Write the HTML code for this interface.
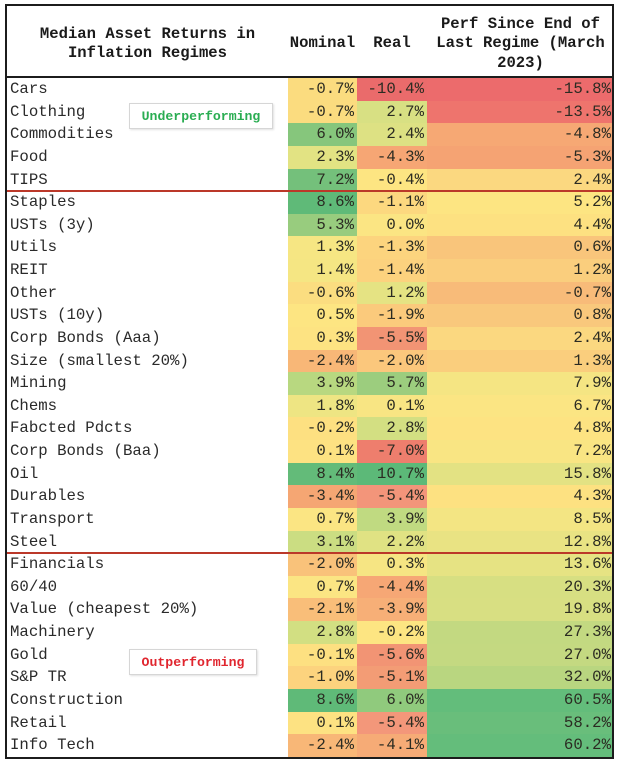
<!DOCTYPE html>
<html>
<head>
<meta charset="utf-8">
<style>
  html,body{margin:0;padding:0;background:#fff;}
  body{width:620px;height:762px;position:relative;overflow:hidden;font-family:"Liberation Mono","DejaVu Sans Mono",monospace;color:#222;}
  .frame{position:absolute;left:5px;top:4px;width:605px;height:751px;border:2px solid #1c1c1c;}
  .hdr{position:absolute;top:9px;height:70px;display:flex;align-items:center;justify-content:center;text-align:center;font-weight:bold;font-size:15.6px;line-height:19.5px;color:#1a1a1a;}
  .hline{position:absolute;left:7px;top:76px;width:605px;height:2px;background:#1c1c1c;}
  .grid{position:absolute;left:7px;top:78px;width:605px;display:grid;grid-template-columns:281px 69px 70px 185px;grid-auto-rows:22.63px;font-size:15.7px;line-height:22.63px;}
  .grid div{white-space:pre;overflow:hidden;}
  .l{padding-left:3px;background:#fff;color:#2a2a2a;}
  .n{text-align:right;padding-right:3px;color:#2b2b22;}
  .p{text-align:right;padding-right:1px;color:#2b2b22;}
  .red{position:absolute;left:7px;width:605px;height:2px;background:#bb3829;}
  .tag{position:absolute;background:#fff;border:1px solid #d6d6d6;box-shadow:1px 1px 2px rgba(0,0,0,0.12);font-weight:bold;font-size:13.2px;display:flex;align-items:center;justify-content:center;}
</style>
</head>
<body>
<div class="frame"></div>

<div class="hdr" style="left:7px;width:281px;">Median Asset Returns in<br>Inflation Regimes</div>
<div class="hdr" style="left:288px;width:69px;">Nominal</div>
<div class="hdr" style="left:357px;width:70px;">Real</div>
<div class="hdr" style="left:427px;width:187px;">Perf Since End of<br>Last Regime (March<br>2023)</div>
<div class="hline"></div>

<div class="grid">
  <div class="l">Cars</div><div class="n" style="background:#fbdc7f">-0.7%</div><div class="n" style="background:#ea6b6b">-10.4%</div><div class="p" style="background:#ec6b6c">-15.8%</div>
  <div class="l">Clothing</div><div class="n" style="background:#fbdc7f">-0.7%</div><div class="n" style="background:#d8e083">2.7%</div><div class="p" style="background:#ee746d">-13.5%</div>
  <div class="l">Commodities</div><div class="n" style="background:#86c67c">6.0%</div><div class="n" style="background:#dde183">2.4%</div><div class="p" style="background:#f6a874">-4.8%</div>
  <div class="l">Food</div><div class="n" style="background:#e2e383">2.3%</div><div class="n" style="background:#f6a674">-4.3%</div><div class="p" style="background:#f5a373">-5.3%</div>
  <div class="l">TIPS</div><div class="n" style="background:#74c07b">7.2%</div><div class="n" style="background:#fde582">-0.4%</div><div class="p" style="background:#fbd880">2.4%</div>
  <div class="l">Staples</div><div class="n" style="background:#5fba78">8.6%</div><div class="n" style="background:#fcd87f">-1.1%</div><div class="p" style="background:#fde582">5.2%</div>
  <div class="l">USTs (3y)</div><div class="n" style="background:#98cc7e">5.3%</div><div class="n" style="background:#fbe583">0.0%</div><div class="p" style="background:#fde181">4.4%</div>
  <div class="l">Utils</div><div class="n" style="background:#f6e683">1.3%</div><div class="n" style="background:#fcd47e">-1.3%</div><div class="p" style="background:#f9c57b">0.6%</div>
  <div class="l">REIT</div><div class="n" style="background:#f5e683">1.4%</div><div class="n" style="background:#fcd27e">-1.4%</div><div class="p" style="background:#face7d">1.2%</div>
  <div class="l">Other</div><div class="n" style="background:#fbdd80">-0.6%</div><div class="n" style="background:#e5e383">1.2%</div><div class="p" style="background:#f8bb79">-0.7%</div>
  <div class="l">USTs (10y)</div><div class="n" style="background:#fde582">0.5%</div><div class="n" style="background:#fbca7c">-1.9%</div><div class="p" style="background:#f9c87c">0.8%</div>
  <div class="l">Corp Bonds (Aaa)</div><div class="n" style="background:#fde382">0.3%</div><div class="n" style="background:#f29474">-5.5%</div><div class="p" style="background:#fbd880">2.4%</div>
  <div class="l">Size (smallest 20%)</div><div class="n" style="background:#f8b777">-2.4%</div><div class="n" style="background:#fbc77c">-2.0%</div><div class="p" style="background:#face7d">1.3%</div>
  <div class="l">Mining</div><div class="n" style="background:#b8d880">3.9%</div><div class="n" style="background:#9ccd7e">5.7%</div><div class="p" style="background:#f5e583">7.9%</div>
  <div class="l">Chems</div><div class="n" style="background:#eee583">1.8%</div><div class="n" style="background:#f8e583">0.1%</div><div class="p" style="background:#fbe583">6.7%</div>
  <div class="l">Fabcted Pdcts</div><div class="n" style="background:#fde081">-0.2%</div><div class="n" style="background:#d3df82">2.8%</div><div class="p" style="background:#fde382">4.8%</div>
  <div class="l">Corp Bonds (Baa)</div><div class="n" style="background:#fde282">0.1%</div><div class="n" style="background:#ee7e6d">-7.0%</div><div class="p" style="background:#f9e583">7.2%</div>
  <div class="l">Oil</div><div class="n" style="background:#63bb79">8.4%</div><div class="n" style="background:#5cb978">10.7%</div><div class="p" style="background:#e3e283">15.8%</div>
  <div class="l">Durables</div><div class="n" style="background:#f5a673">-3.4%</div><div class="n" style="background:#f3957a">-5.4%</div><div class="p" style="background:#fde181">4.3%</div>
  <div class="l">Transport</div><div class="n" style="background:#fbe583">0.7%</div><div class="n" style="background:#c0da81">3.9%</div><div class="p" style="background:#f3e583">8.5%</div>
  <div class="l">Steel</div><div class="n" style="background:#cbdd82">3.1%</div><div class="n" style="background:#e0e283">2.2%</div><div class="p" style="background:#e9e383">12.8%</div>
  <div class="l">Financials</div><div class="n" style="background:#f9c27a">-2.0%</div><div class="n" style="background:#f6e583">0.3%</div><div class="p" style="background:#e6e383">13.6%</div>
  <div class="l">60/40</div><div class="n" style="background:#fbe583">0.7%</div><div class="n" style="background:#f6a775">-4.4%</div><div class="p" style="background:#d7df82">20.3%</div>
  <div class="l">Value (cheapest 20%)</div><div class="n" style="background:#f9be79">-2.1%</div><div class="n" style="background:#f7af77">-3.9%</div><div class="p" style="background:#d8df82">19.8%</div>
  <div class="l">Machinery</div><div class="n" style="background:#d2df82">2.8%</div><div class="n" style="background:#fde582">-0.2%</div><div class="p" style="background:#c3d981">27.3%</div>
  <div class="l">Gold</div><div class="n" style="background:#fde081">-0.1%</div><div class="n" style="background:#f29474">-5.6%</div><div class="p" style="background:#c4d981">27.0%</div>
  <div class="l">S&amp;P TR</div><div class="n" style="background:#fcd37e">-1.0%</div><div class="n" style="background:#f39c75">-5.1%</div><div class="p" style="background:#b9d680">32.0%</div>
  <div class="l">Construction</div><div class="n" style="background:#5fba78">8.6%</div><div class="n" style="background:#90ca7d">6.0%</div><div class="p" style="background:#63bd7b">60.5%</div>
  <div class="l">Retail</div><div class="n" style="background:#fde282">0.1%</div><div class="n" style="background:#f3977a">-5.4%</div><div class="p" style="background:#69be7b">58.2%</div>
  <div class="l">Info Tech</div><div class="n" style="background:#f8b777">-2.4%</div><div class="n" style="background:#f6ab76">-4.1%</div><div class="p" style="background:#64bd7b">60.2%</div>
</div>

<div class="red" style="top:190px;"></div>
<div class="red" style="top:552px;"></div>

<div class="tag" style="left:129px;top:103px;width:142px;height:24px;color:#2aad52;">Underperforming</div>
<div class="tag" style="left:129px;top:649px;width:126px;height:24px;color:#e0252e;">Outperforming</div>
</body>
</html>
